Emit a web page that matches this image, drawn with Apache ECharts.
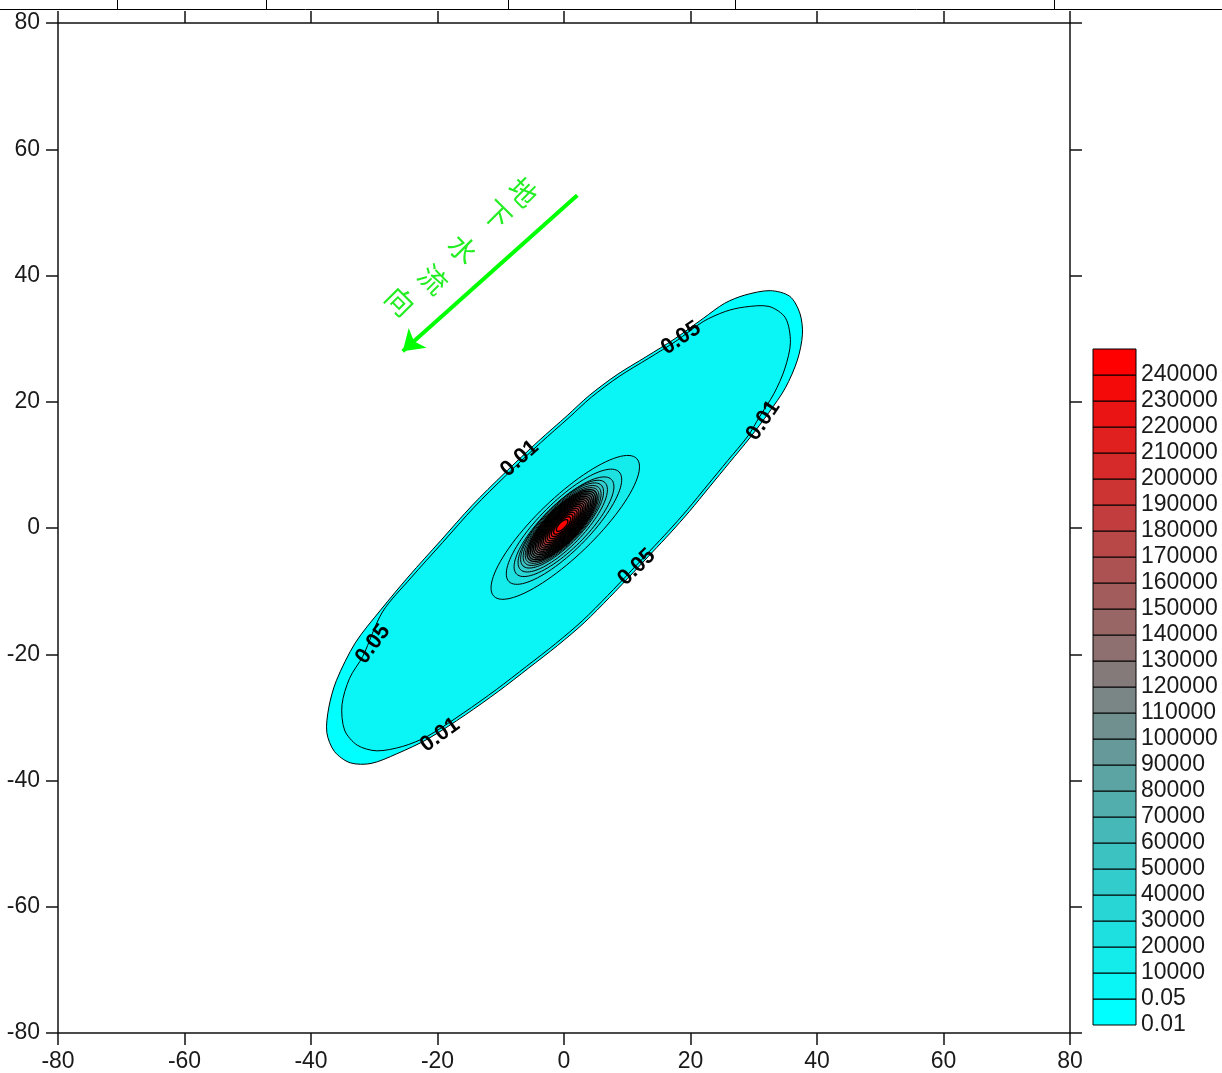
<!DOCTYPE html>
<html>
<head>
<meta charset="utf-8">
<script src="https://cdn.jsdelivr.net/npm/echarts@6/dist/echarts.min.js"></script>
<style>
html,body{margin:0;padding:0;background:#fff;}
#chart{width:1222px;height:1073px;}
</style>
</head>
<body>
<div id="chart"></div>
<script>
// ---------------- data ----------------
const axisTicks = [-80, -60, -40, -20, 0, 20, 40, 60, 80];

const levels = [0.01, 0.05, 10000, 20000, 30000, 40000, 50000, 60000, 70000, 80000, 90000,
  100000, 110000, 120000, 130000, 140000, 150000, 160000, 170000, 180000, 190000,
  200000, 210000, 220000, 230000, 240000];
const levelLabels = ['0.01', '0.05', '10000', '20000', '30000', '40000', '50000', '60000', '70000',
  '80000', '90000', '100000', '110000', '120000', '130000', '140000', '150000', '160000',
  '170000', '180000', '190000', '200000', '210000', '220000', '230000', '240000'];

// 0.01 contour (outer plume boundary), data units
const contour001 = [[28.6,36.9],[32.6,37.6],[35.7,36.7],[37.3,34.0],[37.7,30.7],[36.9,26.6],
  [35.0,22.2],[32.4,18.3],[29.4,14.3],[26.2,10.4],[23.0,6.5],[19.8,2.6],[16.8,-0.8],[14.0,-3.8],
  [11.0,-7.0],[7.2,-11.0],[3.2,-15.0],[-1.0,-18.6],[-5.6,-22.2],[-10.4,-25.9],[-15.6,-29.6],[-21.5,-33.4],
  [-26.5,-35.8],[-30.5,-37.3],[-33.8,-37.2],[-36.3,-35.4],[-37.5,-32.4],[-37.2,-28.5],[-36.0,-24.2],
  [-33.0,-18.2],[-29.0,-13.0],[-24.5,-7.6],[-19.5,-2.0],[-14.5,3.6],[-9.5,8.6],[-4.0,13.8],[0.5,17.8],
  [4.0,21.0],[8.4,24.3],[13.1,27.2],[17.4,29.9],[22.0,33.2],[25.4,35.6]];

// 0.05 contour
const contour005 = [[22.0,32.7],[25.5,34.3],[28.5,35.0],[32.4,35.1],[35.0,33.3],[35.8,29.4],[34.9,25.2],[33.2,21.3],
  [30.9,17.6],[29.1,14.6],[25.9,10.7],[22.7,6.8],[19.5,2.9],[16.5,-0.5],[13.7,-3.5],[10.7,-6.7],[6.9,-10.7],
  [2.9,-14.7],[-1.3,-18.3],[-5.9,-21.9],[-10.7,-25.6],[-15.9,-29.3],[-21.6,-33.0],
  [-25.5,-34.6],[-29.6,-35.3],[-32.7,-34.4],[-34.7,-32.0],[-35.1,-28.0],[-33.9,-23.8],[-31.8,-20.3],
  [-28.7,-13.3],[-24.2,-7.9],[-19.2,-2.3],[-14.2,3.3],[-9.2,8.3],[-3.7,13.5],[0.8,17.5],[4.3,20.7],
  [8.7,24.0],[13.4,26.9],[17.7,29.6]];

// inner contours 10000 ... 240000, approximated as ellipses (centre, semi-axes, orientation in degrees)
const coreLevelIndex = [2,3,4,5,6,7,8,9,10,11,12,13,14,15,16,17,18,19,20,21,22,23,24,25];
const coreCx = [0.2,0.0,0.0,-0.2,-0.3,-0.3,-0.3,-0.3,-0.3,-0.3,-0.3,-0.3,-0.3,-0.3,-0.3,-0.3,-0.3,-0.3,-0.3,-0.3,-0.3,-0.3,-0.3,-0.3];
const coreCy = [0.1,0.2,0.2,0.3,0.4,0.4,0.4,0.4,0.4,0.4,0.4,0.4,0.4,0.4,0.4,0.4,0.4,0.4,0.4,0.4,0.4,0.4,0.4,0.4];
const coreA = [15.7,12.3,10.6,9.6,8.9,8.35,7.9,7.5,7.15,6.8,6.45,6.1,5.75,5.4,5.05,4.7,4.35,4.0,3.6,3.2,2.75,2.3,1.8,1.2];
const coreB = [4.6,3.9,3.5,3.25,3.05,2.9,2.75,2.62,2.5,2.38,2.26,2.14,2.02,1.9,1.78,1.66,1.54,1.42,1.28,1.14,1.0,0.85,0.7,0.5];
const coreAngle = [44,45,45,46,46,46,46,46,46,46,46,46,46,46,46,46,46,46,46,46,46,46,46,46];

// contour line labels [x, y, text]
const contourLabels = [[18.5,30.1,'0.05'],[31.5,17.0,'0.01'],[-7.0,11.0,'0.01'],
  [11.5,-6.2,'0.05'],[-30.2,-18.4,'0.05'],[-19.6,-32.8,'0.01']];
const contourLabelRotate = [34, 56, 42, 44, 53, 36];

// groundwater flow direction annotation
const flowArrow = [[2.1,52.7],[-25.5,28.0]];
const flowChars = [['地',-6.5,53.2],['下',-10.6,49.6],['水',-16.0,44.2],['流',-20.7,39.4],['向',-25.9,35.9]];

// ---------------- helpers ----------------
function levelColor(i) {
  const t = i / (levels.length - 1);
  const r = Math.round(255 * t), g = Math.round(255 * (1 - t));
  return 'rgb(' + r + ',' + g + ',' + g + ')';
}
function ellipsePts(cx, cy, a, b, deg) {
  const th = deg * Math.PI / 180, pts = [];
  for (let k = 0; k < 96; k++) {
    const t = k / 96 * 2 * Math.PI;
    const ex = a * Math.cos(t), ey = b * Math.sin(t);
    pts.push([cx + ex * Math.cos(th) - ey * Math.sin(th), cy + ex * Math.sin(th) + ey * Math.cos(th)]);
  }
  return pts;
}

const shapes = [{level: 0, pts: contour001, smooth: 0.3}, {level: 1, pts: contour005, smooth: 0.3}];
coreLevelIndex.forEach((li, k) => {
  shapes.push({level: li, pts: ellipsePts(coreCx[k], coreCy[k], coreA[k], coreB[k], coreAngle[k]), smooth: 0});
});

const axisFont = {fontFamily: 'Liberation Sans, Arial, sans-serif', fontSize: 23, color: '#1a1a1a'};
const lineCol = '#111';

const chart = echarts.init(document.getElementById('chart'), null, {renderer: 'canvas'});

const option = {
  animation: false,
  backgroundColor: '#fff',
  grid: [
    {left: 58, top: 23, width: 1012, height: 1013},
    {left: 1093, top: 349, width: 43, height: 676}
  ],
  xAxis: [
    {gridIndex: 0, type: 'value', position: 'bottom', min: axisTicks[0], max: axisTicks[axisTicks.length-1], interval: 20,
      axisLine: {show: true, onZero: false, lineStyle: {color: lineCol, width: 1.5}},
      axisTick: {show: true, inside: false, length: 12, lineStyle: {color: lineCol, width: 1.5}},
      axisLabel: Object.assign({show: true, margin: 17}, axisFont),
      splitLine: {show: false}},
    {gridIndex: 0, type: 'value', position: 'top', min: axisTicks[0], max: axisTicks[axisTicks.length-1], interval: 20,
      axisLine: {show: true, onZero: false, lineStyle: {color: lineCol, width: 1.5}},
      axisTick: {show: true, inside: false, length: 12, lineStyle: {color: lineCol, width: 1.5}},
      axisLabel: {show: false}, splitLine: {show: false}},
    {gridIndex: 1, type: 'value', min: 0, max: 1, show: false}
  ],
  yAxis: [
    {gridIndex: 0, type: 'value', position: 'left', min: axisTicks[0], max: axisTicks[axisTicks.length-1], interval: 20,
      axisLine: {show: true, onZero: false, lineStyle: {color: lineCol, width: 1.5}},
      axisTick: {show: true, inside: false, length: 12, lineStyle: {color: lineCol, width: 1.5}},
      axisLabel: Object.assign({show: true, margin: 18}, axisFont),
      splitLine: {show: false}},
    {gridIndex: 0, type: 'value', position: 'right', min: axisTicks[0], max: axisTicks[axisTicks.length-1], interval: 20,
      axisLine: {show: true, onZero: false, lineStyle: {color: lineCol, width: 1.5}},
      axisTick: {show: true, inside: false, length: 12, lineStyle: {color: lineCol, width: 1.5}},
      axisLabel: {show: false}, splitLine: {show: false}},
    {gridIndex: 1, type: 'value', position: 'right', min: 0, max: levels.length, interval: 1,
      axisLine: {show: false}, axisTick: {show: false}, splitLine: {show: false},
      axisLabel: {show: true, margin: 5, fontFamily: 'Liberation Sans, Arial, sans-serif', fontSize: 23, color: '#1a1a1a',
        formatter: v => { const i = Math.round(v); return i < levelLabels.length ? levelLabels[i] : ''; }}}
  ],
  series: [
    {
      type: 'custom', name: 'contours', coordinateSystem: 'cartesian2d', xAxisIndex: 0, yAxisIndex: 0,
      silent: true, clip: true,
      data: shapes.map((s, i) => [0, 0, s.level]),
      renderItem: (params, api) => {
        const s = shapes[params.dataIndex];
        const inner = s.level >= 9;
        return {type: 'polygon', shape: {points: s.pts.map(p => api.coord(p)), smooth: s.smooth},
          style: {fill: levelColor(s.level), stroke: '#000', lineWidth: inner ? 1.4 : 1}};
      }
    },
    {
      type: 'custom', name: 'contourLabels', coordinateSystem: 'cartesian2d', xAxisIndex: 0, yAxisIndex: 0,
      silent: true,
      data: contourLabels.map(d => [d[0], d[1]]),
      renderItem: (params, api) => {
        const d = contourLabels[params.dataIndex];
        const p = api.coord([d[0], d[1]]);
        return {type: 'text', x: p[0], y: p[1], rotation: contourLabelRotate[params.dataIndex] * Math.PI / 180,
          style: {text: d[2], fill: '#000', font: 'bold 22px "Liberation Sans", Arial, sans-serif',
            align: 'center', verticalAlign: 'middle'}};
      }
    },
    {
      type: 'lines', coordinateSystem: 'cartesian2d', xAxisIndex: 0, yAxisIndex: 0, silent: true,
      symbol: ['none', 'arrow'], symbolSize: 20,
      lineStyle: {color: '#00ff00', width: 4, opacity: 1, curveness: 0},
      data: [{coords: flowArrow}]
    },
    {
      type: 'custom', name: 'flowText', coordinateSystem: 'cartesian2d', xAxisIndex: 0, yAxisIndex: 0,
      silent: true,
      data: flowChars.map(d => [d[1], d[2]]),
      renderItem: (params, api) => {
        const d = flowChars[params.dataIndex];
        const p = api.coord([d[1], d[2]]);
        return {type: 'text', x: p[0], y: p[1], rotation: -Math.PI / 4,
          style: {text: d[0], fill: '#22ee22', font: '28px "Noto Sans CJK SC", sans-serif',
            align: 'center', verticalAlign: 'middle'}};
      }
    },
    {
      type: 'custom', name: 'legendBoxes', coordinateSystem: 'cartesian2d', xAxisIndex: 2, yAxisIndex: 2,
      silent: true,
      data: levels.map((v, i) => [0, i]),
      renderItem: (params, api) => {
        const i = params.dataIndex;
        const p0 = api.coord([0, i]), p1 = api.coord([1, i + 1]);
        return {type: 'rect', shape: {x: p0[0], y: p1[1], width: p1[0] - p0[0], height: p0[1] - p1[1]},
          style: {fill: levelColor(i), stroke: '#000', lineWidth: 1}};
      }
    }
  ],
  graphic: [
    {type: 'line', shape: {x1: 0, y1: 9.5, x2: 1222, y2: 9.5}, style: {stroke: '#000', lineWidth: 1}, silent: true},
    {type: 'line', shape: {x1: 117.5, y1: 0, x2: 117.5, y2: 9}, style: {stroke: '#000', lineWidth: 1}, silent: true},
    {type: 'line', shape: {x1: 266.5, y1: 0, x2: 266.5, y2: 9}, style: {stroke: '#000', lineWidth: 1}, silent: true},
    {type: 'line', shape: {x1: 508.5, y1: 0, x2: 508.5, y2: 9}, style: {stroke: '#000', lineWidth: 1}, silent: true},
    {type: 'line', shape: {x1: 735.5, y1: 0, x2: 735.5, y2: 9}, style: {stroke: '#000', lineWidth: 1}, silent: true},
    {type: 'line', shape: {x1: 1054.5, y1: 0, x2: 1054.5, y2: 9}, style: {stroke: '#000', lineWidth: 1}, silent: true}
  ]
};
chart.setOption(option);
</script>
</body>
</html>
